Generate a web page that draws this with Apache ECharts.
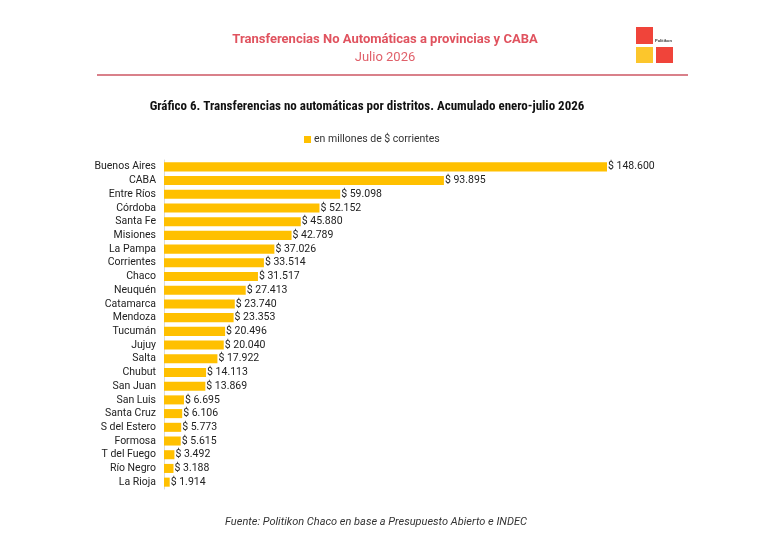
<!DOCTYPE html>
<html>
<head>
<meta charset="utf-8">
<script src="https://cdn.jsdelivr.net/npm/echarts@6/dist/echarts.min.js"></script>
<style>html,body{margin:0;padding:0;background:#fff;}#c{width:768px;height:542px;}</style>
</head>
<body>
<div id="c"></div>
<script>
const categories = ["Buenos Aires","CABA","Entre Ríos","Córdoba","Santa Fe","Misiones","La Pampa","Corrientes","Chaco","Neuquén","Catamarca","Mendoza","Tucumán","Jujuy","Salta","Chubut","San Juan","San Luis","Santa Cruz","S del Estero","Formosa","T del Fuego","Río Negro","La Rioja"];
const values = [148600,93895,59098,52152,45880,42789,37026,33514,31517,27413,23740,23353,20496,20040,17922,14113,13869,6695,6106,5773,5615,3492,3188,1914];
const seriesName = "en millones de $ corrientes";
const headerTitle = "Transferencias No Automáticas a provincias y CABA";
const headerSub = "Julio 2026";
const chartTitle = "Gráfico 6. Transferencias no automáticas por distritos. Acumulado enero-julio 2026";
const source = "Fuente: Politikon Chaco en base a Presupuesto Abierto e INDEC";

function fmt(v){ return "$ " + String(v).replace(/\B(?=(\d{3})+(?!\d))/g, "."); }

const chart = echarts.init(document.getElementById('c'), null, {renderer:'canvas'});
const narrow = "'Roboto Condensed', 'Liberation Sans Narrow', sans-serif";
const body = "Roboto, sans-serif";
chart.setOption({
  backgroundColor:'#fff',
  animation:false,
  title:[
    {text:headerTitle, left:380, top:28, textAlign:'center', textStyle:{fontFamily:body, fontSize:13, fontWeight:'bold', color:'#e0535f'}},
    {text:headerSub, left:380, top:46, textAlign:'center', textStyle:{fontFamily:body, fontSize:13, fontWeight:'normal', color:'#e0606a'}},
    {text:chartTitle, left:362, top:95, textAlign:'center', textStyle:{fontFamily:narrow, fontSize:13, fontWeight:'bold', color:'#111'}},
    {text:source, left:371, top:512, textAlign:'center', textStyle:{fontFamily:body, fontSize:11, fontWeight:'normal', fontStyle:'italic', color:'#333'}}
  ],
  legend:{top:129, left:299, itemWidth:7, itemHeight:7, itemGap:4, icon:'rect', data:[seriesName], textStyle:{fontFamily:body, fontSize:10.5, color:'#333', padding:[0,0,0,-2]}},
  grid:{left:164, top:160, width:443, height:329, containLabel:false},
  xAxis:{type:'value', min:0, max:148600, show:false},
  yAxis:{type:'category', data:categories, inverse:true,
    axisLine:{show:true, lineStyle:{color:'#d9d9d9', width:1}},
    axisTick:{show:false},
    axisLabel:{interval:0, fontFamily:body, fontSize:10.5, color:'#222', margin:8}},
  series:[{type:'bar', name:seriesName, data:values, barCategoryGap:'34%',
    itemStyle:{color:'#FFC000'},
    label:{show:true, position:'right', distance:1, formatter:p=>fmt(p.value), fontFamily:body, fontSize:10.5, color:'#222'}}],
  graphic:[
    {type:'line', shape:{x1:97,y1:75,x2:688,y2:75}, style:{stroke:'#d9808a', lineWidth:2}},
    {type:'rect', shape:{x:636,y:27,width:17,height:17}, style:{fill:'#f0443a'}},
    {type:'rect', shape:{x:636,y:47,width:17,height:16}, style:{fill:'#fcc62c'}},
    {type:'rect', shape:{x:656,y:47,width:17,height:16}, style:{fill:'#f0443a'}},
    {type:'text', x:655, y:39, style:{text:'Politikon', fontSize:4, fontWeight:'bold', fill:'#333', fontFamily:'sans-serif'}}
  ]
});
</script>
</body>
</html>
